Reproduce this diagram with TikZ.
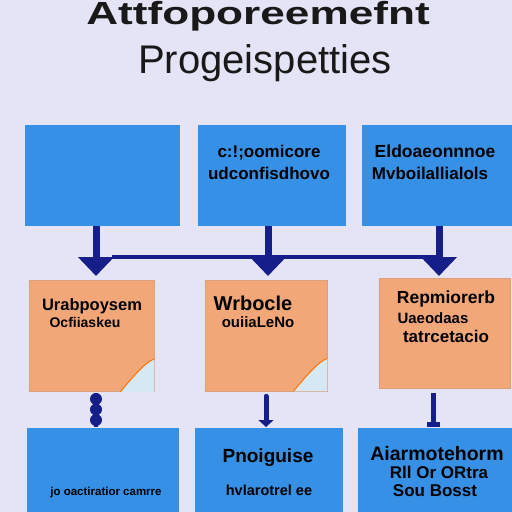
\documentclass[tikz,border=0pt]{standalone}
\usepackage{fontspec}
\setmainfont{Liberation Sans}
\usetikzlibrary{arrows.meta,calc}
\definecolor{bgpage}{RGB}{228,228,246}
\definecolor{boxblue}{RGB}{54,144,230}
\definecolor{boxorange}{RGB}{242,167,121}
\definecolor{curlblue}{RGB}{214,232,244}
\definecolor{navy}{RGB}{22,30,138}
\begin{document}
\begin{tikzpicture}[x=1pt,y=-1pt,
  bluebox/.style={fill=boxblue,minimum width=#1,minimum height=101pt,inner sep=0pt},
  notebox/.style={fill=boxorange,draw=boxorange!80!gray,line width=0.6pt,minimum width=#1,minimum height=111pt,inner sep=0pt},
  lbl/.style={font=\bfseries\fontsize{#1}{#1}\selectfont,inner sep=0pt,anchor=base},
  flow/.style={draw=navy,line width=7pt},
  link/.style={draw=navy,line width=5pt}]
\useasboundingbox (0,0) rectangle (512,512);
\fill[bgpage] (0,0) rectangle (512,512);
% title
\node[lbl=32,text=black!90] (head1) at (258,24) {\scalebox{1.38}[1]{Attfoporeemefnt}};
\node[font=\fontsize{40}{40}\selectfont,inner sep=0pt,anchor=base,text=black!90] (head2) at (265,73) {Progeispetties};
% top row
\node[bluebox=155pt] (top1) at (102.5,175.5) {};
\node[bluebox=148pt] (top2) at (272,175.5) {};
\node[bluebox=160pt] (top3) at (442,175.5) {};
\node[lbl=17] (t2a) at (269,157) {c:!;oomicore};
\node[lbl=17] (t2b) at (269,179) {udconfisdhovo};
\node[lbl=17.5] (t3a) at (435,157) {Eldoaeonnnoe};
\node[lbl=17] (t3b) at (430,179) {Mvboilallialols};
% middle row
\node[notebox=125pt] (mid1) at (91.5,336) {};
\node[notebox=122pt] (mid2) at (266,335.5) {};
\node[notebox=131pt,minimum height=110pt] (mid3) at (444.5,333) {};
\foreach \n in {1,2}{
  \fill[curlblue] ($(mid\n.south east)+(-34,0)$) .. controls +(12,-14) and +(-10,4) .. ($(mid\n.south east)+(0,-33)$) -- (mid\n.south east) -- cycle;
  \draw[orange!90!red,line width=1pt] ($(mid\n.south east)+(-34,0)$) .. controls +(12,-14) and +(-10,4) .. ($(mid\n.south east)+(0,-33)$);
}
\node[lbl=16.5] (m1a) at (92,310) {Urabpoysem};
\node[lbl=14] (m1b) at (85,327) {Ocfiiaskeu};
\node[lbl=20] (m2a) at (253,310) {Wrbocle};
\node[lbl=15] (m2b) at (258,327) {ouiiaLeNo};
\node[lbl=17.5] (m3a) at (446,303) {Repmiorerb};
\node[lbl=15] (m3b) at (433,323) {Uaeodaas};
\node[lbl=17] (m3c) at (446,342) {tatrcetacio};
% bottom row
\node[bluebox=152pt,minimum height=92pt] (bot1) at (103,474) {};
\node[bluebox=148pt,minimum height=92pt] (bot2) at (269,474) {};
\node[bluebox=162pt,minimum height=92pt] (bot3) at (439,474) {};
\node[lbl=11.5] (b1a) at (106,495) {jo oactiratior camrre};
\node[lbl=19] (b2a) at (268,462) {Pnoiguise};
\node[lbl=14.5] (b2b) at (269,495) {hvlarotrel ee};
\node[lbl=19.5] (b3a) at (437,460) {Aiarmotehorm};
\node[lbl=17] (b3b) at (439,478) {Rll Or ORtra};
\node[lbl=17] (b3c) at (435,496) {Sou Bosst};
% connectors, top
\coordinate (a1) at (96,276);
\coordinate (a2) at (268,276);
\coordinate (a3) at (439,276);
\draw[navy,line width=4pt] (112,257) -- (a3 |- 0,257);
\foreach \n in {1,2,3}
  \draw[flow,-{Triangle[width=35pt,length=19pt]}] (top\n.south -| a\n) -- (a\n);
% connectors, bottom
\draw[navy,line width=4pt] (96,393) -- (96,427);
\foreach \y in {399,409.5,420}
  \fill[navy] (96,\y) circle (6pt);
\coordinate (c2) at (266,427);
\coordinate (c3) at (433,427);
\draw[link,line cap=round,-{Triangle[width=15pt,length=7pt]}] (mid2.south -| c2) ++(0,5) -- (c2);
\draw[link,-{Rectangle[width=13pt,length=5pt]}] (mid3.south -| c3) ++(0,5) -- (c3);
\end{tikzpicture}
\end{document}
